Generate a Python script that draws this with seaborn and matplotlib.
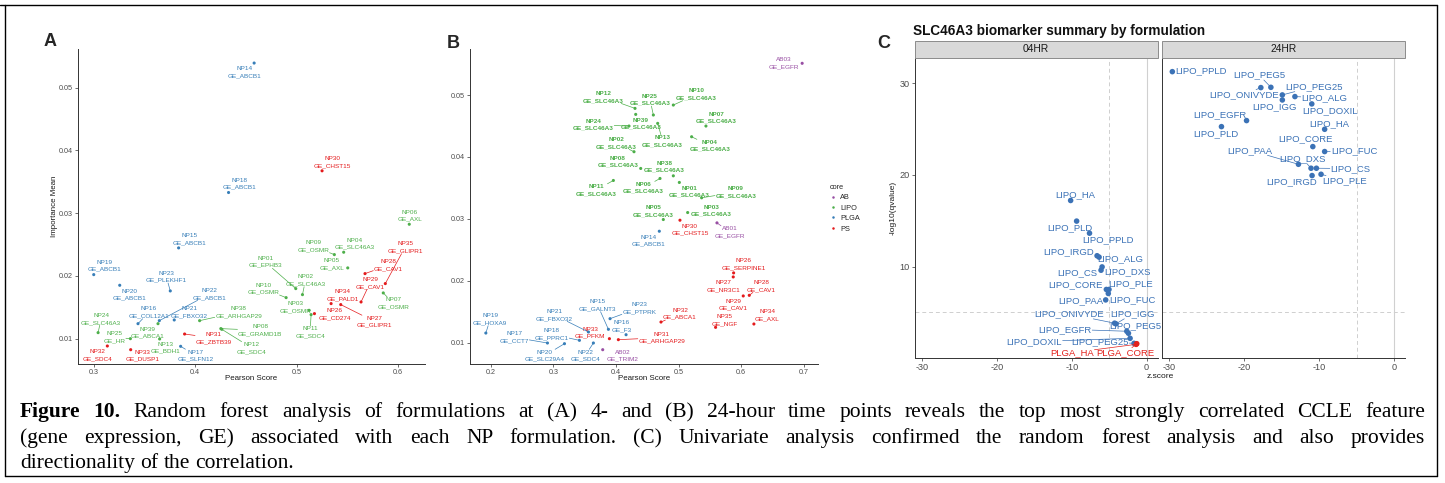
import numpy as np
import pandas as pd
import matplotlib
matplotlib.use("Agg")
import matplotlib.pyplot as plt
from matplotlib.lines import Line2D
from matplotlib.patches import Rectangle
import seaborn as sns

sns.set_theme(style="white")
plt.rcParams['font.family'] = ['Liberation Sans', 'DejaVu Sans']

W, H, DPI = 1445, 483, 100

# ------------------------------------------------------------------ data
# Panel A (4 h random forest)
A_np = ["NP14", "NP15", "NP16", "NP17", "NP18", "NP19", "NP20", "NP21", "NP22", "NP23",
        "NP26", "NP27", "NP28", "NP29", "NP30", "NP31", "NP32", "NP33", "NP34", "NP35",
        "NP01", "NP02", "NP03", "NP04", "NP05", "NP06", "NP07", "NP08", "NP09", "NP10",
        "NP11", "NP12", "NP13", "NP24", "NP25", "NP38", "NP39"]
A_gene = ["GE_ABCB1", "GE_ABCB1", "GE_COL12A1", "GE_SLFN12", "GE_ABCB1", "GE_ABCB1", "GE_ABCB1",
          "GE_FBXO32", "GE_ABCB1", "GE_PLEKHF1",
          "GE_CD274", "GE_GLIPR1", "GE_CAV1", "GE_CAV1", "GE_CHST15", "GE_ZBTB39", "GE_SDC4",
          "GE_DUSP1", "GE_PALD1", "GE_GLIPR1",
          "GE_EPHB3", "GE_SLC46A3", "GE_OSMR", "GE_SLC46A3", "GE_AXL", "GE_AXL", "GE_OSMR",
          "GE_GRAMD1B", "GE_OSMR", "GE_OSMR", "GE_SDC4", "GE_SDC4", "GE_BDH1", "GE_SLC46A3",
          "GE_HR", "GE_ARHGAP29", "GE_ABCA1"]
A_core = ["PLGA"] * 10 + ["PS"] * 10 + ["LIPO"] * 17
A_pearson = [0.4580, 0.3836, 0.3436, 0.3856, 0.4328, 0.3000, 0.3256, 0.3793, 0.3646, 0.3754,
             0.5174, 0.5433, 0.5672, 0.5633, 0.5249, 0.3895, 0.3134, 0.3364, 0.5338, 0.5872,
             0.4990, 0.5056, 0.5121, 0.5462, 0.5502, 0.6108, 0.5852, 0.4252, 0.5370, 0.4895,
             0.5141, 0.4262, 0.3649, 0.3043, 0.3361, 0.4043, 0.3633]
A_importance = [0.05394, 0.02447, 0.01239, 0.00878, 0.03330, 0.02021, 0.01851, 0.01298, 0.01287, 0.01761,
                0.01399, 0.01543, 0.02037, 0.01585, 0.03676, 0.01074, 0.00883, 0.00824, 0.01559, 0.01878,
                0.01798, 0.01702, 0.01452, 0.02378, 0.02128, 0.02824, 0.01729, 0.01160, 0.02340, 0.01654,
                0.01383, 0.01149, 0.00995, 0.01096, 0.01000, 0.01287, 0.01239]

# Panel B (24 h random forest)
B_np = ["AB01", "AB02", "AB03",
        "NP01", "NP02", "NP03", "NP04", "NP05", "NP06", "NP07", "NP08", "NP09", "NP10",
        "NP11", "NP12", "NP13", "NP24", "NP25", "NP38", "NP39",
        "NP14", "NP15", "NP16", "NP17", "NP18", "NP19", "NP20", "NP21", "NP22", "NP23",
        "NP26", "NP27", "NP28", "NP29", "NP30", "NP31", "NP32", "NP33", "NP34", "NP35"]
B_gene = ["GE_EGFR", "GE_TRIM2", "GE_EGFR"] + ["GE_SLC46A3"] * 17 + \
         ["GE_ABCB1", "GE_GALNT3", "GE_F3", "GE_CCT7", "GE_PPRC1", "GE_HOXA9", "GE_SLC29A4",
          "GE_FBXO32", "GE_SDC4", "GE_PTPRK",
          "GE_SERPINE1", "GE_NR3C1", "GE_CAV1", "GE_CAV1", "GE_CHST15", "GE_ARHGAP29",
          "GE_ABCA1", "GE_PFKM", "GE_AXL", "GE_NGF"]
B_core = ["AB"] * 3 + ["LIPO"] * 17 + ["PLGA"] * 10 + ["PS"] * 10
B_pearson = [0.5612, 0.3787, 0.6973,
             0.5011, 0.4287, 0.5144, 0.5207, 0.4755, 0.4702, 0.5436, 0.4394, 0.5367, 0.4915,
             0.3957, 0.4303, 0.4665, 0.4207, 0.4596, 0.4915, 0.4314,
             0.4691, 0.3878, 0.4160, 0.2904, 0.3415, 0.1920, 0.3176, 0.3559, 0.3638, 0.3904,
             0.5878, 0.5872, 0.6128, 0.6032, 0.5021, 0.4037, 0.4718, 0.3894, 0.6202, 0.5590]
B_importance = [0.02935, 0.00887, 0.05512,
                0.03588, 0.04084, 0.03102, 0.04326, 0.02989, 0.03652, 0.04499, 0.03814, 0.03340, 0.04838,
                0.03620, 0.04784, 0.04542, 0.04499, 0.04677, 0.03695, 0.04687,
                0.02800, 0.01216, 0.01129, 0.00995, 0.01038, 0.01156, 0.00984, 0.01173, 0.00995, 0.01388,
                0.02127, 0.02062, 0.01765, 0.01755, 0.02978, 0.01049, 0.01334, 0.01065, 0.01302, 0.01248]

# Panel C (univariate SLC46A3 summary)
C04_form = ["LIPO_HA", "LIPO_PLD", "LIPO_PPLD", "LIPO_IRGD", "LIPO_ALG", "LIPO_CS", "LIPO_DXS",
            "LIPO_CORE", "LIPO_PLE", "LIPO_FUC", "LIPO_PAA", "LIPO_ONIVYDE", "LIPO_IGG",
            "LIPO_EGFR", "LIPO_PEG5", "LIPO_DOXIL", "LIPO_PEG25", "PLGA_HA", "PLGA_CORE"]
C04_z = [-10.15, -9.35, -7.63, -6.62, -6.35, -6.09, -5.95, -5.38, -5.03, -5.12, -5.47,
         -4.28, -4.10, -2.65, -2.43, -2.21, -1.68, -1.41, -1.32]
C04_logq = [17.21, 14.96, 13.64, 11.18, 11.03, 9.60, 9.96, 7.50, 7.50, 7.06, 6.36,
            3.82, 3.75, 2.94, 2.72, 2.17, 1.62, 1.51, 1.58]
C24_form = ["LIPO_PPLD", "LIPO_ONIVYDE", "LIPO_PEG5", "LIPO_PEG25", "LIPO_IGG", "LIPO_ALG",
            "LIPO_DOXIL", "LIPO_EGFR", "LIPO_PLD", "LIPO_HA", "LIPO_CORE", "LIPO_FUC",
            "LIPO_PAA", "LIPO_DXS", "LIPO_CS", "LIPO_IRGD", "LIPO_PLE"]
C24_z = [-29.62, -17.80, -16.46, -14.93, -14.93, -13.25, -11.00, -19.71, -23.06, -9.28,
         -10.86, -9.28, -12.78, -11.10, -10.38, -10.96, -9.76]
C24_logq = [31.27, 29.53, 29.56, 28.73, 28.18, 28.55, 27.75, 25.93, 25.27, 24.98,
            23.09, 22.55, 21.16, 20.73, 20.73, 19.93, 20.07]

# ------------------------------------------------------------------ layout (label offsets, px)
A_lab_dx = [-9.7, 10.7, 10.7, 15.3, 10.7, 10.3, 10, 15.3, 50.3, -4,
            20, 34, 23.3, 9, 10.7, 29, -10.3, 12, 11.3, 19.7,
            -30.7, 3, -14, 11.3, -15.7, 0.7, 10, 39.3, -21, -22.7, -1, 30, 6, 3, -16, 39, -10.3]
A_lab_dy = [9.3, -8.7, -11.3, 9.3, -9, -8.7, 9.3, -8, -26.7, -14.3,
            0.7, 17, -8.3, -19, -8.7, 4, 9.3, 6, -8.3, -36.3,
            -26.7, -14.3, -3.3, -8.7, -3.7, -8.7, 10.3, 1.7, -8.3, -9, 17.7, 18.7, 8.6, -13.7, -1.3, -8.7, 9]
B_lab_dx = [13, 19.7, -18,
            10, -18, 24, 18.3, -10, -16.7, 10.7, -23, 34.3, 23.3, -17.3, -31.7, 5, -35.7, -3.3, -9, 5,
            -11, -10.7, -4.3, -33.3, -27.7, 4.3, -20, -34, -8.3, 29.3,
            10, -10, 11.7, -10, 10, 43.3, 19, -19.3, 13.3, 9.3]
B_lab_dy = [9.3, 6, 0,
            9.3, -8.7, -2, 9, -8.3, 9.3, -8.3, -7, -5.7, -10.7, 9.7, -11.3, 17.7, -1.3, -15.3, -9, 9.3,
            9.3, -24, -8.7, -5.7, -6, -13.7, 12, -17, 12.7, -10.7,
            -8.7, 9, -9.3, 8.7, 9.3, -2, -8.3, -6, -8.7, -7]
C04_lab_dx = [5, -7, 18.3, -28.3, 20.7, -23.3, 25.7, -31, 22, 24, -25.3, -46, 16.7, -61.7, 6.7, -95.7, -34, -64, -11]
C04_lab_dy = [-5.3, 7, 6.3, -4, 2, 2.3, 5, -4.3, -5.3, 6, 0.7, -9.3, -10, -2, -8, 3.3, -1.7, 8.3, 9]
C24_lab_dx = [28.2, -16.8, -11.8, 31.4, -7.9, 29.3, 18.2, -26.8, -6, 5, -7.1, 29.3, -48.2, -8.9, 34, -20, 24]
C24_lab_dy = [-1, 7, -12.3, -8.3, 6.7, 1.3, 6.3, -5.7, 6.7, -5.7, -7.7, -0.7, -14, -10, 0.3, 6, 6.3]

core_pal = {"AB": "#984EA3", "LIPO": "#4DAF4A", "PLGA": "#377EB8", "PS": "#E41A1C"}
C_pal = {"LIPO": "#3B72B6", "PLGA": "#E3211C"}

fig = plt.figure(figsize=(W / DPI, H / DPI), dpi=DPI)
fig.patch.set_facecolor("white")


def rect(l, t, r, b):
    return [l / W, 1 - b / H, (r - l) / W, (b - t) / H]


def fx(x):
    return x / W


def fy(y):
    return 1 - y / H


def classic(ax, xlim, ylim, xt, yt, xfmt, yfmt, tick_fs):
    ax.set_xlim(*xlim)
    ax.set_ylim(*ylim)
    ax.set_xticks(xt)
    ax.set_yticks(yt)
    ax.set_xticklabels([xfmt(v) for v in xt])
    ax.set_yticklabels([yfmt(v) for v in yt])
    for s in ["top", "right"]:
        ax.spines[s].set_visible(False)
    for s in ["left", "bottom"]:
        ax.spines[s].set_color("#333333")
        ax.spines[s].set_linewidth(0.7)
    ax.tick_params(length=2, width=0.5, color="#333333", labelsize=tick_fs,
                   labelcolor="#4D4D4D", pad=1.5, bottom=True, left=True)
    ax.set_xlabel("")
    ax.set_ylabel("")
    ax.grid(False)
    ax.set_facecolor("white")


labels = []


def add_labels(ax, xs, ys, texts, colors, dxs, dys, fs, ls, weights=None):
    if weights is None:
        weights = ["normal"] * len(texts)
    for x, y, t, c, dx, dy, wt in zip(xs, ys, texts, colors, dxs, dys, weights):
        a = ax.annotate(t, (x, y), xytext=(dx * 72 / DPI, -dy * 72 / DPI), textcoords="offset points",
                        ha="center", va="center", fontsize=fs, color=c, linespacing=ls,
                        weight=wt, annotation_clip=False)
        labels.append((a, ax, x, y, c))


# ------------------------------------------------------------------ panel A
dfA = pd.DataFrame(dict(np=A_np, gene=A_gene, core=A_core, pearson=A_pearson, imp=A_importance))
axA = fig.add_axes(rect(78, 49, 425, 364))
sns.scatterplot(data=dfA, x="pearson", y="imp", hue="core", palette=core_pal, s=5,
                linewidth=0, legend=False, ax=axA, zorder=3)
classic(axA, (0.2845, 0.6263), (0.00596, 0.05618), [0.3, 0.4, 0.5, 0.6],
        [0.01, 0.02, 0.03, 0.04, 0.05], lambda v: f"{v:.1f}", lambda v: f"{v:.2f}", 5.2)
add_labels(axA, dfA.pearson, dfA.imp, [f"{a}\n{b}" for a, b in zip(dfA.np, dfA.gene)],
           [core_pal[c] for c in dfA.core], A_lab_dx, A_lab_dy, 4.6, 1.45)
fig.text(fx(251), fy(378), "Pearson Score", ha="center", va="center", fontsize=5.7, color="#1a1a1a")
fig.text(fx(55), fy(206), "Importance Mean", ha="center", va="center", rotation=90, fontsize=5.7,
         color="#1a1a1a")
fig.text(fx(50), fy(42), "A", ha="center", va="center", fontsize=13, weight="bold")

# ------------------------------------------------------------------ panel B
dfB = pd.DataFrame(dict(np=B_np, gene=B_gene, core=B_core, pearson=B_pearson, imp=B_importance))
axB = fig.add_axes(rect(470, 49, 818, 364))
sns.scatterplot(data=dfB, x="pearson", y="imp", hue="core", palette=core_pal, s=5,
                linewidth=0, legend=False, ax=axB, zorder=3)
classic(axB, (0.1667, 0.7226), (0.00656, 0.05743), [0.2, 0.3, 0.4, 0.5, 0.6, 0.7],
        [0.01, 0.02, 0.03, 0.04, 0.05], lambda v: f"{v:.1f}", lambda v: f"{v:.2f}", 5.2)
add_labels(axB, dfB.pearson, dfB.imp, [f"{a}\n{b}" for a, b in zip(dfB.np, dfB.gene)],
           [core_pal[c] for c in dfB.core], B_lab_dx, B_lab_dy, 4.6, 1.45,
           ["bold" if c == "LIPO" else "normal" for c in dfB.core])
fig.text(fx(644), fy(378), "Pearson Score", ha="center", va="center", fontsize=5.7, color="#1a1a1a")
fig.text(fx(453), fy(43), "B", ha="center", va="center", fontsize=13, weight="bold")
handles = [Line2D([], [], marker="o", ls="", markersize=1.8, markeredgewidth=0, color=core_pal[k])
           for k in core_pal]
leg = fig.legend(handles, list(core_pal.keys()), title="core", loc="upper left",
                 bbox_to_anchor=(fx(826), fy(180)), frameon=False, fontsize=5.3, title_fontsize=5.3,
                 handlelength=0.8, handletextpad=0.6, labelspacing=0.45, borderpad=0)
leg._legend_box.align = "left"

# ------------------------------------------------------------------ panel C
dfC = pd.concat([
    pd.DataFrame(dict(form=C04_form, z=C04_z, lq=C04_logq, time="04HR", dx=C04_lab_dx, dy=C04_lab_dy)),
    pd.DataFrame(dict(form=C24_form, z=C24_z, lq=C24_logq, time="24HR", dx=C24_lab_dx, dy=C24_lab_dy)),
])
dfC["core"] = dfC.form.str.split("_").str[0]
facets = [("04HR", 914.5, 1157.5), ("24HR", 1162, 1405)]
for i, (tm, l, r) in enumerate(facets):
    ax = fig.add_axes(rect(l, 58, r, 358))
    sub = dfC[dfC.time == tm]
    ax.axvline(0, color="#D0D0D0", lw=0.8, zorder=1)
    ax.axvline(-5, color="#CFCFCF", lw=0.7, ls=(0, (4, 3)), zorder=1)
    ax.axhline(5, color="#CFCFCF", lw=0.7, ls=(0, (4, 3)), zorder=1)
    sns.scatterplot(data=sub, x="z", y="lq", hue="core", palette=C_pal, s=16, linewidth=0,
                    legend=False, ax=ax, zorder=3)
    classic(ax, (-31.0, 1.45), (0.02, 32.76), [-30, -20, -10, 0], [10, 20, 30],
            lambda v: f"{v:d}", lambda v: f"{v:d}", 6.6)
    if i > 0:
        ax.set_yticklabels([])
        ax.tick_params(axis="y", length=0)
    add_labels(ax, sub.z, sub.lq, list(sub.form), [C_pal[c] for c in sub.core],
               list(sub.dx), list(sub.dy), 6.8, 1.2)
    fig.patches.append(Rectangle((fx(l), fy(58)), fx(r) - fx(l), fy(41) - fy(58),
                                 transform=fig.transFigure, facecolor="#D9D9D9",
                                 edgecolor="#8C8C8C", lw=0.7, figure=fig))
    fig.text(fx((l + r) / 2), fy(49.5), tm, ha="center", va="center", fontsize=7.4, color="#1a1a1a")
fig.text(fx(1160), fy(377), "z.score", ha="center", va="center", fontsize=6.0, color="#1a1a1a")
fig.text(fx(893), fy(208), "-log10(qvalue)", ha="center", va="center", rotation=90, fontsize=6.0,
         color="#1a1a1a")
fig.text(fx(913), fy(31), "SLC46A3 biomarker summary by formulation", ha="left", va="center",
         fontsize=9.8, weight="bold", color="#111111")
fig.text(fx(884), fy(44), "C", ha="center", va="center", fontsize=13, weight="bold")

# ------------------------------------------------------------------ repel-style segments
fig.canvas.draw()
rend = fig.canvas.get_renderer()
inv = fig.transFigure.inverted()
for a, ax, x, y, c in labels:
    bb = a.get_window_extent(rend)
    px, py = ax.transData.transform((x, y))
    cx, cy = (bb.x0 + bb.x1) / 2, (bb.y0 + bb.y1) / 2
    vx, vy = px - cx, py - cy
    hw, hh = bb.width / 2 + 0.5, bb.height / 2 + 0.5
    ts = []
    if abs(vx) > 1e-9:
        ts.append(hw / abs(vx))
    if abs(vy) > 1e-9:
        ts.append(hh / abs(vy))
    t = min(ts) if ts else 1
    if t >= 1:
        continue
    ex, ey = cx + t * vx, cy + t * vy
    if np.hypot(px - ex, py - ey) < 4.5:
        continue
    (fx0, fy0), (fx1, fy1) = inv.transform([(ex, ey), (px, py)])
    fig.lines.append(Line2D([fx0, fx1], [fy0, fy1], transform=fig.transFigure, color=c, lw=0.5,
                            figure=fig, zorder=2))

# ------------------------------------------------------------------ caption
SERIF = ["Liberation Serif", "DejaVu Serif"]
CAP_LINE1 = [("Figure 10.", True),
             ("Random forest analysis of formulations at (A) 4- and (B) 24-hour time points reveals the top "
              "most strongly correlated CCLE feature", False)]
CAP_LINE2 = [("(gene expression, GE) associated with each NP formulation. (C) Univariate analysis confirmed "
              "the random forest analysis and also provides", False)]
CAP_LINE3 = [("directionality of the correlation.", False)]
CAP_FS = 15.5
X0, X1 = 20, 1425


def width_of(txt, bold, size):
    t = fig.text(0, 0, txt, fontsize=size, family=SERIF, weight="bold" if bold else "normal")
    w = t.get_window_extent(rend).width
    t.remove()
    return w


def cap_line(runs, y, justify=True):
    items = [(w, b) for txt, b in runs for w in txt.split()]
    widths = [width_of(w, b, CAP_FS) for w, b in items]
    if justify:
        gap = (X1 - X0 - sum(widths)) / (len(items) - 1)
    else:
        gap = width_of("a a", False, CAP_FS) - width_of("aa", False, CAP_FS)
    x = X0
    for (w, b), wd in zip(items, widths):
        fig.text(fx(x), fy(y), w, fontsize=CAP_FS, family=SERIF, weight="bold" if b else "normal",
                 ha="left", va="baseline", color="black")
        x += wd + gap


cap_line(CAP_LINE1, 417)
cap_line(CAP_LINE2, 443)
cap_line(CAP_LINE3, 468, justify=False)

# ------------------------------------------------------------------ frame
for xs, ys in [([0, 1437], [5, 5]), ([4.5, 4.5], [5, 476]), ([1437, 1437], [5, 476]),
               ([4.5, 1437], [476, 476])]:
    fig.lines.append(Line2D([fx(v) for v in xs], [fy(v) for v in ys], transform=fig.transFigure,
                            color="black", lw=1.0, figure=fig))

fig.savefig("out.png", dpi=DPI, facecolor="white")
